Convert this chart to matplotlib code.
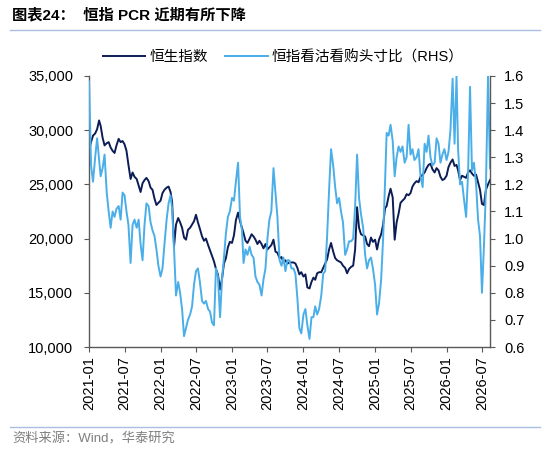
import matplotlib
matplotlib.use("Agg")
import matplotlib.pyplot as plt
import matplotlib.dates as mdates
from matplotlib.ticker import FuncFormatter
from matplotlib.lines import Line2D
import pandas as pd

plt.rcParams['font.family'] = ['Liberation Sans', 'Noto Sans CJK SC', 'DejaVu Sans']

# three readings per month (1st, 11th, 21st), Jan 2021 - Aug 2026
months = pd.period_range("2021-01", "2026-08", freq="M")
dates = [m.start_time + pd.Timedelta(days=d) for m in months for d in (0, 10, 20)][:203]

hsi = [
    28200, 28900, 29500, 29700, 30100, 30900, 30400, 29300, 28600,
    28800, 28900, 28400, 28100, 27900, 28600, 29200, 28900, 29000,
    28700, 28100, 26800, 25500, 26100, 25700, 25500, 24900, 24300,
    25100, 25400, 25600, 25300, 24700, 24500, 23700, 23100, 23300,
    23500, 24200, 24500, 24700, 24800, 24300, 23400, 19300, 21300,
    21900, 21500, 21000, 20100, 19900, 20800, 21000, 21300, 21600,
    22200, 21500, 20900, 20200, 19800, 20000, 19400, 18900, 18400,
    17900, 17200, 16700, 15300, 16300, 17700, 18200, 19200, 19700,
    19600, 20300, 21700, 22400, 21600, 21000, 20500, 19800, 19600,
    20000, 20400, 20200, 19900, 19500, 19800, 19500, 19100, 19500,
    19000, 19200, 19400, 19900, 18800, 18700, 18200, 18300, 17800,
    18000, 17700, 17800, 17800, 17800, 17700, 17300, 16700, 16900,
    16500, 16700, 15500, 15400, 16000, 16400, 16200, 16800, 16900,
    16900, 17300, 17700, 18100, 19000, 19600, 18800, 18200, 18000,
    17900, 17800, 17500, 17300, 16800, 17200, 17400, 17500, 19000,
    22900, 21000, 20400, 20300, 20200, 19500, 19300, 20100, 19700,
    19900, 19000, 19900, 20400, 21300, 22800, 23000, 23900, 24600,
    23800, 19900, 21500, 22300, 23300, 23500, 23700, 24100, 24000,
    24200, 24800, 25100, 25300, 25200, 25700, 25900, 26100, 26500,
    26800, 26900, 26400, 26100, 26500, 26300, 25700, 25400, 25500,
    25800, 26600, 27000, 27300, 26700, 26800, 26300, 25400, 25800,
    25700, 25600, 26100, 26300, 26000, 25800, 25900, 25200, 24500,
    23200, 23100, 24500, 25000, 25400,
]

pcr = [
    1.58, 1.27, 1.21, 1.30, 1.37, 1.29, 1.23, 1.26, 1.31,
    1.17, 1.10, 1.04, 1.10, 1.08, 1.11, 1.12, 1.07, 1.17,
    1.16, 1.10, 1.05, 0.91, 1.05, 1.07, 1.04, 1.07, 0.98,
    0.92, 1.05, 1.13, 1.12, 1.06, 1.03, 1.01, 0.96, 0.90,
    0.86, 0.89, 0.98, 1.07, 1.13, 1.16, 1.11, 0.96, 0.79,
    0.84, 0.80, 0.74, 0.64, 0.67, 0.70, 0.72, 0.75, 0.83,
    0.88, 0.89, 0.84, 0.77, 0.76, 0.77, 0.74, 0.73, 0.69,
    0.68, 0.89, 0.86, 0.71, 0.85, 0.93, 1.02, 1.08, 1.10,
    1.15, 1.14, 1.21, 1.28, 1.08, 1.03, 0.91, 0.96, 0.94,
    0.97, 0.94, 0.93, 0.86, 0.84, 0.83, 0.79, 0.85, 0.89,
    1.00, 1.07, 1.10, 1.26, 1.17, 1.08, 0.92, 0.90, 0.93,
    0.88, 0.92, 0.92, 0.89, 0.89, 0.87, 0.78, 0.67, 0.65,
    0.72, 0.74, 0.68, 0.63, 0.71, 0.71, 0.75, 0.72, 0.74,
    0.79, 0.87, 0.88, 1.01, 1.18, 1.33, 1.27, 1.19, 1.13,
    1.15, 1.10, 1.06, 0.94, 0.96, 0.99, 0.99, 1.00, 1.12,
    1.31, 1.15, 1.09, 1.04, 0.94, 0.89, 0.92, 0.93, 0.89,
    0.83, 0.72, 0.76, 0.85, 1.00, 1.21, 1.39, 1.38, 1.42,
    1.36, 1.23, 1.30, 1.34, 1.32, 1.34, 1.28, 1.30, 1.42,
    1.31, 1.33, 1.29, 1.30, 1.33, 1.23, 1.19, 1.35, 1.32,
    1.38, 1.30, 1.27, 1.28, 1.37, 1.35, 1.28, 1.31, 1.33,
    1.29, 1.32, 1.40, 1.59, 1.35, 1.60, 1.33, 1.20, 1.21,
    1.14, 1.08, 1.24, 1.56, 1.25, 1.28, 1.20, 1.07, 1.01,
    0.80, 0.97, 1.18, 1.60, 1.26,
]

dark = '#0c1c55'
light = '#4aaee8'
spine_c = '#595959'

fig = plt.figure(figsize=(5.5, 4.57), dpi=100)
ax = fig.add_axes([0.162, 0.2407, 0.7289, 0.593])
ax2 = ax.twinx()

ax.plot(dates, hsi, color=dark, lw=1.4, label='恒生指数')
ax2.plot(dates, pcr, color=light, lw=1.4, label='恒指看沽看购头寸比（RHS）')

ax.set_ylim(10000, 35000)
ax.set_yticks(range(10000, 35001, 5000))
ax.yaxis.set_major_formatter(FuncFormatter(lambda v, p: f'{v:,.0f}'))
ax2.set_ylim(0.6, 1.6)
ax2.set_yticks([0.6 + 0.1 * i for i in range(11)])
ax2.yaxis.set_major_formatter(FuncFormatter(lambda v, p: f'{v:.1f}'))

ax.set_xlim(dates[0], dates[-1])
ticks = pd.date_range("2021-01-01", "2026-07-01", freq="6MS")
ax.set_xticks(ticks)
ax.xaxis.set_major_formatter(mdates.DateFormatter('%Y-%m'))
for lab in ax.get_xticklabels():
    lab.set_rotation(90)

for a in (ax, ax2):
    a.spines['top'].set_visible(False)
    for s in ('left', 'right', 'bottom'):
        a.spines[s].set_color(spine_c)
        a.spines[s].set_linewidth(1.0)
    a.tick_params(colors=spine_c, labelcolor='black', labelsize=10.5, length=3.5, direction='out')
ax.spines['right'].set_visible(False)
ax2.spines['left'].set_visible(False)
ax2.spines['bottom'].set_visible(False)
ax.tick_params(axis='y', pad=8)
ax.tick_params(axis='x', pad=3)
ax2.tick_params(axis='y', pad=6.5)

h1, l1 = ax.get_legend_handles_labels()
h2, l2 = ax2.get_legend_handles_labels()
fig.legend(h1 + h2, l1 + l2, loc='center', bbox_to_anchor=(0.515, 0.875), ncol=2,
           frameon=False, fontsize=10.5, handlelength=2.9, columnspacing=1.2, handletextpad=0.3)

fig.text(0.022, 0.967, '图表24：  恒指 PCR 近期有所下降', fontsize=11, fontweight='bold',
         va='center', ha='left')
fig.add_artist(Line2D([0.018, 0.982], [0.934, 0.934], color='#a9bfe0', lw=1.0))
fig.add_artist(Line2D([0.018, 0.982], [0.066, 0.066], color='#a9bfe0', lw=1.0))
fig.text(0.022, 0.039, '资料来源：Wind，华泰研究', fontsize=9.5, color='#7f7f7f',
         va='center', ha='left')

fig.savefig('out.png', dpi=100)
